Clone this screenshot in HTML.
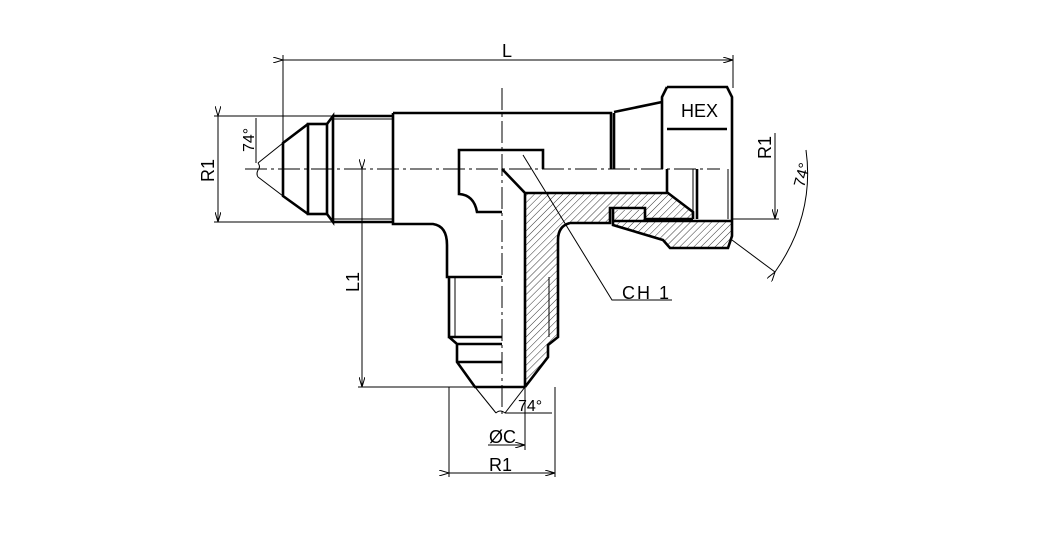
<!DOCTYPE html>
<html><head><meta charset="utf-8"><style>
html,body{margin:0;padding:0;background:#fff;}
svg{display:block;}
text{font-family:"Liberation Sans",sans-serif;fill:#000;}
</style></head><body>
<svg width="1058" height="556" viewBox="0 0 1058 556" xmlns="http://www.w3.org/2000/svg">
<defs>
<pattern id="h" patternUnits="userSpaceOnUse" width="5" height="5" patternTransform="rotate(45)">
<line x1="0" y1="0" x2="0" y2="5" stroke="#000" stroke-width="0.8"/>
</pattern>
<marker id="a" markerWidth="10" markerHeight="6" refX="10" refY="3" orient="auto" markerUnits="userSpaceOnUse"><path d="M0,0 L10,3 L0,6" fill="none" stroke="#000" stroke-width="1"/></marker>
</defs>
<rect width="1058" height="556" fill="#fff"/>

<path d="M525,193 L668,193 L693,212 L693,219 L645,219 L645,208 L610,208 L610,223 L570,223 Q558,226 558,240 L558,337 L548,345 L548,357 L525,387 Z" fill="url(#h)"/>
<path d="M613,210 L645,210 L645,221 L732,221 L732,236 L728,248 L670,248 L663,240 L613,225 Z" fill="url(#h)"/>

<g fill="none" stroke="#000" stroke-width="1">
<line x1="283" y1="60" x2="733" y2="60" marker-start="url(#a)" marker-end="url(#a)"/>
<line x1="283" y1="55" x2="283" y2="172"/>
<line x1="733" y1="55" x2="733" y2="88"/>
<line x1="218" y1="116" x2="218" y2="222" marker-start="url(#a)" marker-end="url(#a)"/>
<line x1="214" y1="116" x2="333" y2="116"/>
<line x1="214" y1="222" x2="333" y2="222"/>
<line x1="283" y1="143" x2="258" y2="163"/>
<line x1="283" y1="196" x2="258" y2="177"/>
<path d="M258,163 q3,4 0,7 q-2,4 0,7"/>
<line x1="256" y1="118" x2="256" y2="163"/>
<line x1="362" y1="169" x2="362" y2="387" marker-start="url(#a)" marker-end="url(#a)"/>
<line x1="358" y1="387" x2="475" y2="387"/>
<line x1="449" y1="473" x2="555" y2="473" marker-start="url(#a)" marker-end="url(#a)"/>
<line x1="449" y1="387" x2="449" y2="477"/>
<line x1="555" y1="387" x2="555" y2="477"/>
<line x1="488" y1="445" x2="525" y2="445" marker-end="url(#a)"/>
<line x1="525" y1="387" x2="525" y2="450"/>
<line x1="475" y1="387" x2="496" y2="413"/>
<line x1="525" y1="387" x2="505" y2="413"/>
<path d="M496,413 q4,-4 9,0"/>
<line x1="505" y1="413" x2="552" y2="413"/>
<line x1="775" y1="133" x2="775" y2="219" marker-end="url(#a)"/>
<line x1="732" y1="219" x2="779" y2="219"/>
<line x1="732" y1="240" x2="775" y2="272"/>
<path d="M775,272 Q815,215 806,150" marker-start="url(#a)"/>
<polyline points="523,155 612,300 672,300"/>
<line x1="245" y1="169" x2="720" y2="169" stroke-dasharray="22,4,3,4"/>
<line x1="502" y1="88" x2="502" y2="415" stroke-dasharray="22,4,3,4"/>
</g>

<g fill="none" stroke="#000" stroke-width="2.6" stroke-linejoin="miter">
<polyline points="308,124 283,143 283,196 308,214"/>
<rect x="308" y="124" width="19" height="90"/>
<polyline points="327,124 333,116 333,222 327,214"/>
<line x1="333" y1="116" x2="393" y2="116"/>
<line x1="333" y1="222" x2="393" y2="222"/>
<path d="M393,113 L611,113 L611,169 M393,113 L393,224 L433,224 Q447,226 447,245 L447,277 L502,277"/>
<path d="M502,150 L459,150 L459,194 Q474,195 477,212 L502,212 M502,150 L543,150 L543,169"/>
<path d="M502,169 L525,193 L668,193 L693,212 L693,219 M525,193 L525,387 M570,223 L610,223 L610,208 L645,208 L645,219 L693,219 M570,223 Q558,226 558,240 L558,337 L548,345 L548,357 L525,387"/>
<line x1="614" y1="113" x2="614" y2="169"/>
<line x1="614" y1="112" x2="662" y2="102"/>
<path d="M667,87 L727,87 L732,97 L732,236 L728,248 L670,248 L663,240 L613,225 L613,209"/>
<path d="M667,87 L662,97 L662,169"/>
<line x1="667" y1="129" x2="727" y2="129"/>
<line x1="667" y1="169" x2="667" y2="193"/>
<line x1="697" y1="169" x2="697" y2="219"/>
<line x1="613" y1="221" x2="732" y2="221"/>
<path d="M449,277 L449,337 L502,337 M449,337 L457,344 L502,344 M457,344 L457,362 L475,387 L525,387 M457,362 L502,362"/>
</g>
<g stroke="#000" stroke-width="1" fill="none">
<line x1="333" y1="119" x2="393" y2="119"/>
<line x1="333" y1="219" x2="393" y2="219"/>
<line x1="455" y1="277" x2="455" y2="337"/>
<line x1="549" y1="277" x2="549" y2="337"/>
<line x1="693" y1="169" x2="693" y2="212"/>
<line x1="728" y1="169" x2="728" y2="219"/>
</g>

<text x="502" y="57" font-size="18">L</text>
<text x="681" y="117" font-size="18">HEX</text>
<text x="622" y="299" font-size="18" letter-spacing="2">CH 1</text>
<text x="489" y="443" font-size="18">ØC</text>
<text x="489" y="471" font-size="18">R1</text>
<text x="518" y="411" font-size="16">74°</text>
<text transform="translate(214,182) rotate(-90)" font-size="18">R1</text>
<text transform="translate(771,159) rotate(-90)" font-size="18">R1</text>
<text transform="translate(359,292) rotate(-90)" font-size="18">L1</text>
<text transform="translate(254,152) rotate(-90)" font-size="16">74°</text>
<text transform="translate(804,188) rotate(-75)" font-size="16">74°</text>
</svg>
</body></html>
